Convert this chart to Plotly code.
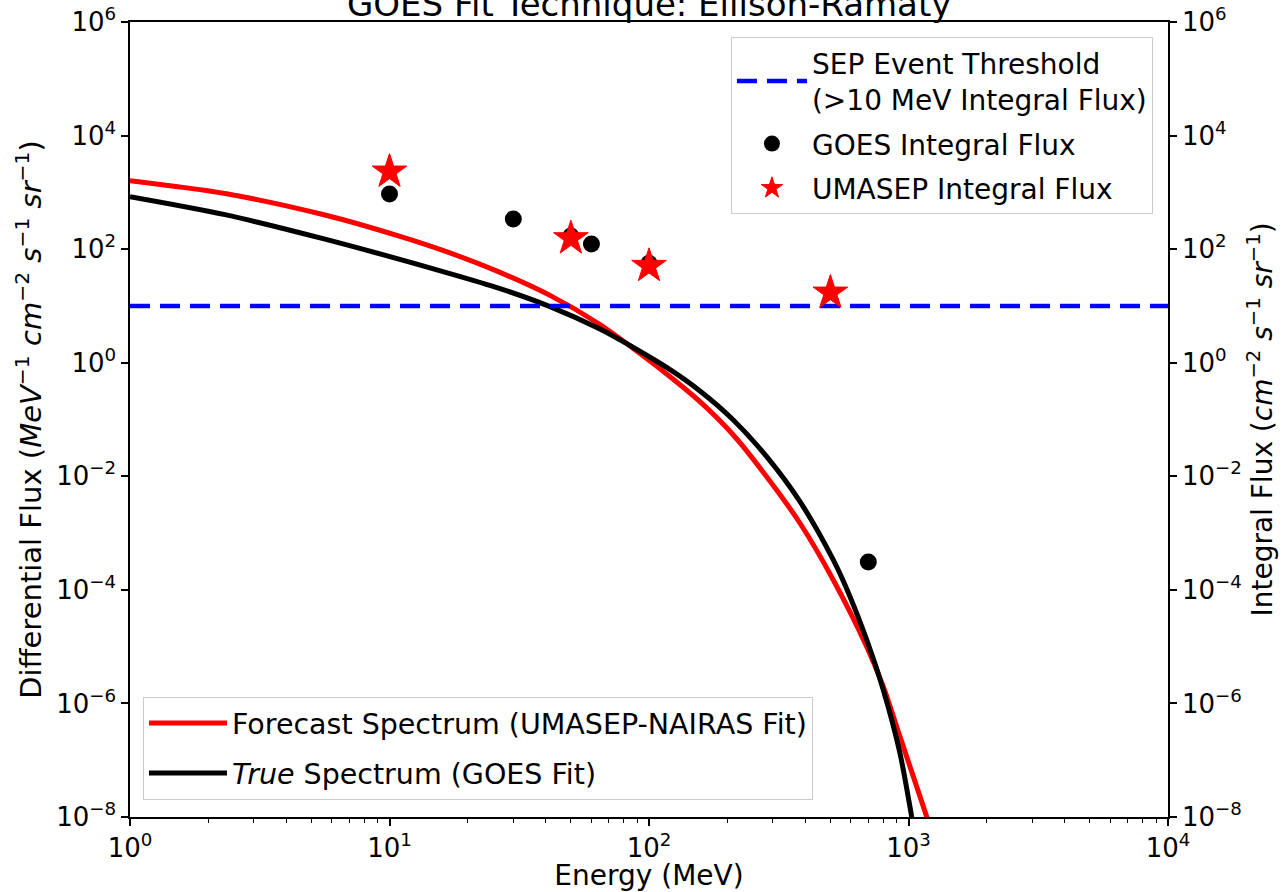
import plotly.graph_objects as go

# ---- data ----
energy_goes = [10, 30, 50, 60, 100, 700]
flux_goes = [936, 340, 170, 123, 56.4, 3.1e-4]

energy_umasep = [10, 50, 100, 500]
flux_umasep = [2312, 155, 50.5, 17.1]

threshold_energy = [1, 10000]
threshold_flux = [10, 10]

# Forecast spectrum (UMASEP-NAIRAS fit)
energy_red = [1.0, 2.323, 5.642, 10.98, 17.10, 26.66, 41.54, 64.75, 87.0, 117.0, 157.2,
              211.3, 284.1, 381.9, 513.1, 690.2, 799.6, 927.2, 1075.5, 1175.0, 1265.0]
flux_red = [1606, 955.5, 399.5, 167.8, 85.9, 38.97, 15.34, 4.714, 1.782, 0.6334, 0.2061,
            0.05341, 9.847e-3, 1.489e-3, 1.494e-4, 1.0e-5, 1.975e-6, 2.6e-7, 3.424e-8,
            1.015e-8, 3.71e-9]

# True spectrum (GOES fit)
energy_black = [1.0, 2.323, 5.642, 17.10, 26.66, 41.54, 64.75, 87.0, 117.0, 157.2, 211.3,
                284.1, 381.9, 513.1, 595.2, 690.2, 799.6, 927.2, 1028.7, 1087.9]
flux_black = [839.0, 404.4, 149.8, 37.12, 20.21, 9.741, 3.911, 1.855, 0.8245, 0.3179,
              0.09811, 0.02215, 3.573e-3, 3.361e-4, 7.59e-5, 1.312e-5, 1.727e-6, 1.327e-7,
              1.015e-8, 2.42e-9]

x_tickvals = [1, 10, 100, 1000, 10000]
x_ticktext = ["10<sup>0</sup>", "10<sup>1</sup>", "10<sup>2</sup>", "10<sup>3</sup>", "10<sup>4</sup>"]
y_tickvals = [1e-8, 1e-6, 1e-4, 1e-2, 1, 1e2, 1e4, 1e6]
y_ticktext = ["10<sup>−8</sup>", "10<sup>−6</sup>", "10<sup>−4</sup>", "10<sup>−2</sup>",
              "10<sup>0</sup>", "10<sup>2</sup>", "10<sup>4</sup>", "10<sup>6</sup>"]
x_minor = [m * 10 ** d for d in range(4) for m in range(2, 10)]

FONT = "DejaVu Sans, sans-serif"

fig = go.Figure()

fig.add_trace(go.Scatter(
    x=energy_red, y=flux_red, mode="lines",
    line=dict(color="red", width=5, shape="spline", smoothing=0.8),
    name="Forecast Spectrum (UMASEP-NAIRAS Fit)", legend="legend2", legendgroup="fc"))
fig.add_trace(go.Scatter(
    x=energy_black, y=flux_black, mode="lines",
    line=dict(color="black", width=5, shape="spline", smoothing=0.8),
    name="<i>True</i> Spectrum (GOES Fit)", legend="legend2", legendgroup="tr"))

fig.add_trace(go.Scatter(
    x=threshold_energy, y=threshold_flux, mode="lines", yaxis="y2",
    line=dict(color="blue", width=4.5, dash="20px,10px"),
    name="SEP Event Threshold<br>(>10 MeV Integral Flux)", legend="legend", legendgroup="sep"))
fig.add_trace(go.Scatter(
    x=energy_goes, y=flux_goes, mode="markers", yaxis="y2",
    marker=dict(color="black", size=17, symbol="circle"),
    name="GOES Integral Flux", legend="legend", legendgroup="goes"))
fig.add_trace(go.Scatter(
    x=energy_umasep, y=flux_umasep, mode="markers", yaxis="y2",
    marker=dict(color="red", size=26, symbol="star", line=dict(color="red", width=1)),
    name="UMASEP Integral Flux", legend="legend", legendgroup="uma"))

axis_common = dict(showline=True, linecolor="black", linewidth=1.5, ticks="outside",
                   ticklen=7, tickwidth=1.5, tickcolor="black", showgrid=False, zeroline=False,
                   automargin=False,
                   tickfont=dict(family=FONT, size=26, color="black"))

fig.update_layout(
    width=1287, height=892,
    margin=dict(l=130, r=119, t=22, b=75, autoexpand=False),
    paper_bgcolor="white", plot_bgcolor="white",
    font=dict(family=FONT, size=28, color="black"),
    xaxis=dict(type="log", range=[0, 4], tickmode="array", tickvals=x_tickvals, ticktext=x_ticktext,
               mirror=True,
               minor=dict(tickmode="array", tickvals=x_minor, ticks="outside", ticklen=4,
                          tickwidth=1, tickcolor="black"),
               title=dict(text="Energy (MeV)", font=dict(family=FONT, size=28), standoff=6),
               **axis_common),
    yaxis=dict(type="log", range=[-8, 6], tickmode="array", tickvals=y_tickvals, ticktext=y_ticktext,
               title=dict(text="Differential Flux (<i>MeV</i><sup>−1</sup> <i>cm</i><sup>−2</sup> "
                               "<i>s</i><sup>−1</sup> <i>sr</i><sup>−1</sup>)",
                          font=dict(family=FONT, size=29), standoff=6),
               **axis_common),
    yaxis2=dict(type="log", range=[-8, 6], overlaying="y", side="right", anchor="x",
                tickmode="array", tickvals=y_tickvals, ticktext=y_ticktext,
                title=dict(text="Integral Flux (<i>cm</i><sup>−2</sup> <i>s</i><sup>−1</sup> "
                                "<i>sr</i><sup>−1</sup>)",
                           font=dict(family=FONT, size=28), standoff=6),
                **axis_common),
    legend=dict(x=0.9855, y=0.981, xanchor="right", yanchor="top",
                bgcolor="rgba(255,255,255,0.8)", bordercolor="#cccccc", borderwidth=1,
                font=dict(family=FONT, size=28), itemsizing="trace", itemwidth=70,
                tracegroupgap=5),
    legend2=dict(x=0.0125, y=0.0214, xanchor="left", yanchor="bottom",
                 bgcolor="rgba(255,255,255,0.8)", bordercolor="#cccccc", borderwidth=1,
                 font=dict(family=FONT, size=28.5), itemwidth=78, tracegroupgap=10),
    showlegend=True,
    annotations=[dict(text="GOES Fit Technique: Ellison-Ramaty", xref="paper", yref="paper",
                      x=0.5, y=1, xanchor="center", yanchor="bottom", yshift=-4, showarrow=False,
                      font=dict(family=FONT, size=34, color="black"))],
)

fig.write_html("out.html", config={"displayModeBar": False},
               post_script="document.body.style.margin='0px';document.body.style.overflow='hidden';")
